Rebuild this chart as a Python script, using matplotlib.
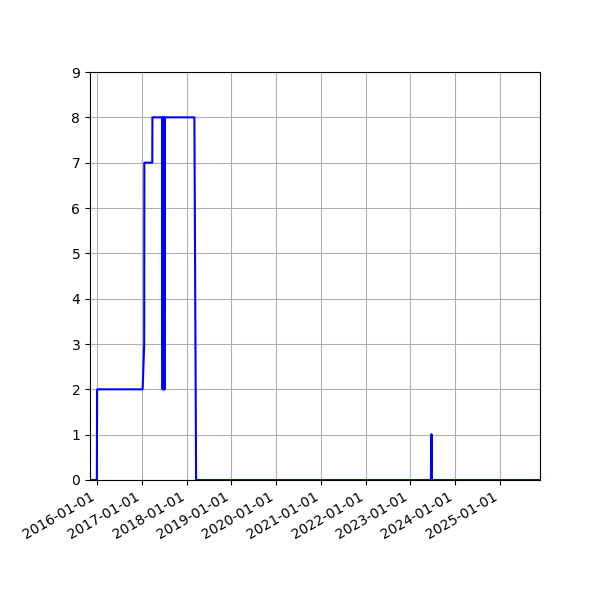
import matplotlib
matplotlib.use('Agg')
import matplotlib.pyplot as plt
import matplotlib.dates as mdates
import pandas as pd

# change points of the series (line is drawn straight between them)
dates = [
    '2015-11-02', '2015-12-28', '2015-12-30',
    '2017-01-05', '2017-01-18', '2017-01-19',
    '2017-03-25', '2017-03-26',
    '2017-06-15', '2017-06-17', '2017-06-19', '2017-06-21', '2017-06-23',
    '2017-06-25', '2017-06-27', '2017-06-29', '2017-07-01', '2017-07-03',
    '2017-07-05', '2017-07-06',
    '2018-03-04', '2018-03-18',
    '2023-06-19', '2023-06-20', '2023-06-21', '2023-06-22', '2023-06-23',
    '2023-06-24', '2023-06-25', '2023-06-26',
    '2025-11-26',
]
values = [
    0, 0, 2,
    2, 3, 7,
    7, 8,
    8, 2, 8, 2, 8,
    2, 8, 2, 8, 2,
    8, 8,
    8, 0,
    0, 1, 0, 1, 0,
    1, 0, 0,
    0,
]

x = pd.to_datetime(dates)

fig, ax = plt.subplots(figsize=(6, 6), dpi=100)
ax.plot(x, values, color='b', linewidth=1.5)

ax.set_xlim(x[0], x[-1])
ax.set_ylim(0, 9)
ax.set_yticks(range(0, 10))
ax.xaxis.set_major_locator(mdates.YearLocator())
ax.xaxis.set_major_formatter(mdates.DateFormatter('%Y-%m-%d'))
ax.grid(True)

fig.autofmt_xdate()
fig.subplots_adjust(left=0.15, right=0.9, top=0.88, bottom=0.2)
fig.savefig('out.png')
